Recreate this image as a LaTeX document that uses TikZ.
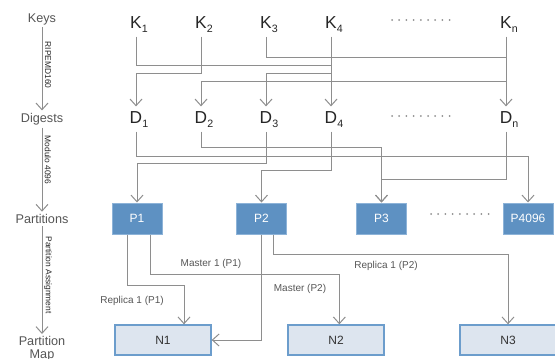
\documentclass[tikz,border=0pt]{standalone}
\usepackage{fontspec}
\setmainfont{Liberation Sans}
\usetikzlibrary{arrows.meta}

\definecolor{linegray}{HTML}{8E8E8E}
\definecolor{labelgray}{HTML}{555555}
\definecolor{partfill}{HTML}{5E91C2}
\definecolor{partdraw}{HTML}{8DB3D8}
\definecolor{nodefill}{HTML}{DDE5EF}
\definecolor{nodedraw}{HTML}{6C9DCC}

\newcommand{\ksub}[1]{\rlap{\raisebox{-3pt}{\fontsize{8}{8}\selectfont #1}}}

\tikzset{every picture/.style={line width=0.75pt}}

\begin{document}
\begin{tikzpicture}[x=0.75pt,y=0.75pt,yscale=-1,xscale=1,
  link/.style={draw=linegray,-{Straight Barb[length=5pt,width=9pt]}},
  keytext/.style={anchor=base,inner sep=0pt,outer sep=3.5pt,text=black!85,font=\fontsize{13}{13}\selectfont},
  sidelabel/.style={inner sep=0pt,outer sep=2pt,text=labelgray,font=\fontsize{9.5}{9.5}\selectfont},
  steplabel/.style={inner sep=0pt,rotate=-90,text=black!85,font=\fontsize{6.3}{6.3}\selectfont},
  partbox/.style={draw=partdraw,fill=partfill,text=white,minimum width=37.5pt,minimum height=23.25pt,inner sep=0pt,font=\fontsize{9}{9}\selectfont},
  nodebox/.style={draw=nodedraw,line width=1pt,fill=nodefill,text=black!80,minimum width=72pt,minimum height=22.5pt,inner sep=0pt,font=\fontsize{9}{9}\selectfont},
  edgelabel/.style={inner sep=0pt,text=labelgray,font=\fontsize{7.5}{7.5}\selectfont},
  dotrow/.style={line width=1.5pt,line cap=round,dash pattern=on 0pt off 5.4pt,draw=linegray}]
\useasboundingbox (0,0) rectangle (555,358);

% Side labels
\node[sidelabel] (lkeys) at (42,19) {Keys};
\node[sidelabel] (ldigests) at (42,119) {Digests};
\node[sidelabel] (lparts) at (42,219) {Partitions};
\node[sidelabel,anchor=north,align=center] (lmap) at (42,334) {Partition\\Map};

\node[steplabel] (lripemd) at (48,65) {RIPEMD160};
\node[steplabel] (lmodulo) at (48,160) {Modulo 4096};
\node[steplabel] (lassign) at (48,275) {Partition Assignment};

\draw[link] (lkeys) -- (ldigests);
\draw[link] (ldigests) -- (lparts);
\draw[link] (lparts) -- (lmap);

% Keys
\node[keytext] (k1) at (136,28) {K\ksub{1}};
\node[keytext] (k2) at (201,28) {K\ksub{2}};
\node[keytext] (k3) at (266,28) {K\ksub{3}};
\node[keytext] (k4) at (331,28) {K\ksub{4}};
\node[keytext] (kn) at (506,28) {K\ksub{n}};
\draw[dotrow] (392,20) -- (452,20);

% Digests
\node[keytext] (d1) at (136,123) {D\ksub{1}};
\node[keytext] (d2) at (201,123) {D\ksub{2}};
\node[keytext] (d3) at (266,123) {D\ksub{3}};
\node[keytext] (d4) at (331,123) {D\ksub{4}};
\node[keytext] (dn) at (506,123) {D\ksub{n}};
\draw[dotrow] (392,116) -- (452,116);

% Partitions
\node[partbox] (p1) at (137,218.5) {P1};
\node[partbox] (p2) at (261.5,218.5) {P2};
\node[partbox] (p3) at (381.5,218.5) {P3};
\node[partbox] (p4096) at (528,218.5) {P4096};
\draw[dotrow] (431,214) -- (491,214);

% Nodes
\node[nodebox] (n1) at (163,340) {N1};
\node[nodebox] (n2) at (336,340) {N2};
\node[nodebox] (n3) at (508,340) {N3};

% Keys to digests
\draw[link] (k1) -- (k1 |- 0,65) -| (d4);
\draw[link] (k2) -- (k2 |- 0,73) -| (d1);
\draw[link] (k3) -- (k3 |- 0,57) -| (dn);
\draw[link] (k4) -- (k4 |- 0,73) -| (d3);
\draw[link] (kn) -- (kn |- 0,81) -| (d2);

% Digests to partitions
\draw[link] (d1) -- (d1 |- 0,156) -| (p4096);
\draw[link] (d2) -- (d2 |- 0,147) -| (p3);
\draw[link] (d3) -- (d3 |- 0,163) -| (p1);
\draw[link] (d4) -- (d4 |- 0,170) -| (p2);
\draw[link] (dn) -- (dn |- 0,179) -| (p3);

% Partitions to nodes
\draw[link] ([xshift=-7.5pt]p1.south) -- ++(0,51) -| ([xshift=15.75pt]n1.north);
\draw[link] ([xshift=9.75pt]p1.south) -- ++(0,40) -| ([xshift=2.5pt]n2.north);
\draw[link] (p2) |- (n1);
\draw[link] ([xshift=9pt]p2.south) -- ++(0,20) -| (n3);

% Text Node
\node[edgelabel] (lrep1) at (132,301) {Replica 1 (P1)};
\node[edgelabel] (lmas1) at (211,264) {Master 1 (P1)};
\node[edgelabel] (lmas2) at (300,289) {Master (P2)};
\node[edgelabel] (lrep2) at (386,266) {Replica 1 (P2)};

\end{tikzpicture}
\end{document}
